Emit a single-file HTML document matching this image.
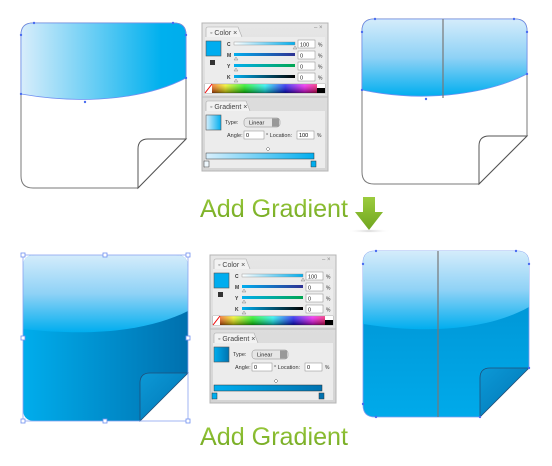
<!DOCTYPE html>
<html><head><meta charset="utf-8"><style>
html,body{margin:0;padding:0;background:#fff;width:552px;height:466px;overflow:hidden}
svg{display:block}
text{font-family:"Liberation Sans",sans-serif}
</style></head><body>
<svg width="552" height="466" viewBox="0 0 552 466" xmlns="http://www.w3.org/2000/svg">
<defs>
<linearGradient id="hg" x1="0" x2="1" y1="0" y2="0"><stop offset="0" stop-color="#d8edfb"/><stop offset="0.85" stop-color="#00b0ee"/><stop offset="1" stop-color="#00adec"/></linearGradient>
<linearGradient id="vg" x1="0" x2="0" y1="0" y2="1"><stop offset="0" stop-color="#d4ecfb"/><stop offset="0.5" stop-color="#8fd2f6"/><stop offset="1" stop-color="#00aeef"/></linearGradient>
<linearGradient id="dh" x1="0" x2="1" y1="0" y2="0"><stop offset="0" stop-color="#00adec"/><stop offset="1" stop-color="#0070ae"/></linearGradient>
<linearGradient id="dv" x1="0" x2="0" y1="0" y2="1"><stop offset="0" stop-color="#008fcf"/><stop offset="1" stop-color="#00aaea"/></linearGradient>
<linearGradient id="fold" x1="0" x2="1" y1="0" y2="1"><stop offset="0" stop-color="#0c99d6"/><stop offset="1" stop-color="#0074b4"/></linearGradient>
<linearGradient id="agr" x1="0" x2="0" y1="0" y2="1"><stop offset="0" stop-color="#9ccc3e"/><stop offset="1" stop-color="#6fa51f"/></linearGradient>
<linearGradient id="spec" x1="0" x2="1"><stop offset="0" stop-color="#ff0000"/><stop offset="0.17" stop-color="#ffff00"/><stop offset="0.33" stop-color="#00ff00"/><stop offset="0.5" stop-color="#00ffff"/><stop offset="0.67" stop-color="#0000ff"/><stop offset="0.83" stop-color="#ff00ff"/><stop offset="1" stop-color="#ff0000"/></linearGradient>
<linearGradient id="specd" x1="0" x2="0" y1="0" y2="1"><stop offset="0" stop-color="#fff" stop-opacity="0.3"/><stop offset="1" stop-color="#000" stop-opacity="0.5"/></linearGradient>
<linearGradient id="c1" x1="0" x2="1"><stop offset="0" stop-color="#fff"/><stop offset="1" stop-color="#00aeef"/></linearGradient>
<linearGradient id="m1" x1="0" x2="1"><stop offset="0" stop-color="#00aeef"/><stop offset="1" stop-color="#2e3192"/></linearGradient>
<linearGradient id="y1" x1="0" x2="1"><stop offset="0" stop-color="#00aeef"/><stop offset="1" stop-color="#00a651"/></linearGradient>
<linearGradient id="k1" x1="0" x2="1"><stop offset="0" stop-color="#00aeef"/><stop offset="1" stop-color="#000"/></linearGradient>
<linearGradient id="gb1" x1="0" x2="1"><stop offset="0" stop-color="#d8effc"/><stop offset="1" stop-color="#00aeef"/></linearGradient>
<linearGradient id="gb2" x1="0" x2="1"><stop offset="0" stop-color="#00aeef"/><stop offset="1" stop-color="#0072b0"/></linearGradient>
<linearGradient id="pan" x1="0" x2="0" y1="0" y2="1"><stop offset="0" stop-color="#e6e6e6"/><stop offset="1" stop-color="#d4d4d4"/></linearGradient>
<radialGradient id="ash" cx="0.5" cy="0.5" r="0.5"><stop offset="0" stop-color="#ccc"/><stop offset="1" stop-color="#fff" stop-opacity="0"/></radialGradient>
</defs>

<!-- TOP LEFT -->
<path d="M33,23 H174 Q186,23 186,35 V139 L138,188 H33 Q21,188 21,176 V35 Q21,23 33,23 Z" fill="#fff" stroke="#7a7a7a" stroke-width="1"/>
<path d="M21,94 V35 Q21,23 33,23 H174 Q186,23 186,35 V78 C150,97 90,106 21,94 Z" fill="url(#hg)" stroke="#6f8ff0" stroke-width="0.8"/>
<path d="M186,139 H148 Q138,139 138,149 V188 Z" fill="#fff" stroke="#555" stroke-width="1"/>
<g fill="#4a6cf0"><circle cx="34" cy="23" r="1.2"/><circle cx="173" cy="23" r="1.2"/><circle cx="21" cy="35" r="1.2"/><circle cx="186" cy="35" r="1.2"/><circle cx="21" cy="94" r="1.2"/><circle cx="186" cy="78" r="1.2"/><circle cx="85" cy="102" r="1.2"/></g>

<!-- TOP RIGHT -->
<path d="M374,19 H515 Q527,19 527,31 V136 L479,184 H374 Q362,184 362,172 V31 Q362,19 374,19 Z" fill="#fff" stroke="#7a7a7a" stroke-width="1"/>
<path d="M362,90 V31 Q362,19 374,19 H515 Q527,19 527,31 V74 C492,92 430,104 362,90 Z" fill="url(#vg)" stroke="#6f8ff0" stroke-width="0.8"/>
<line x1="443" y1="19" x2="443" y2="98" stroke="#777" stroke-width="1.2"/>
<path d="M527,136 H489 Q479,136 479,146 V184 Z" fill="#fff" stroke="#555" stroke-width="1"/>
<g fill="#4a6cf0"><circle cx="375" cy="19" r="1.2"/><circle cx="514" cy="19" r="1.2"/><circle cx="362" cy="32" r="1.2"/><circle cx="527" cy="32" r="1.2"/><circle cx="362" cy="90" r="1.2"/><circle cx="527" cy="74" r="1.2"/><circle cx="426" cy="99" r="1.2"/></g>

<!-- BOTTOM LEFT -->
<path d="M35,255 H176 Q188,255 188,267 V373 L140,421 H35 Q23,421 23,409 V267 Q23,255 35,255 Z" fill="url(#dh)"/>
<path d="M23,329 V267 Q23,255 35,255 H176 Q188,255 188,267 V311 C150,330 95,337 23,329 Z" fill="url(#vg)"/>
<path d="M188,373 V421 H140 Z" fill="#fff"/>
<path d="M188,373 H150 Q140,373 140,383 V421 Z" fill="url(#fold)" stroke="#1f4f7a" stroke-width="0.8"/>
<rect x="23" y="255" width="165" height="166" fill="none" stroke="#8aa2f0" stroke-width="0.8"/>
<g fill="#fff" stroke="#6f8ff0" stroke-width="0.8">
<rect x="21" y="253" width="4" height="4"/><rect x="103" y="253" width="4" height="4"/><rect x="186" y="253" width="4" height="4"/>
<rect x="21" y="336" width="4" height="4"/><rect x="186" y="336" width="4" height="4"/>
<rect x="21" y="419" width="4" height="4"/><rect x="103" y="419" width="4" height="4"/><rect x="186" y="419" width="4" height="4"/></g>

<!-- BOTTOM RIGHT -->
<path d="M375,251 H517 Q529,251 529,263 V368 L480,417 H375 Q363,417 363,405 V263 Q363,251 375,251 Z" fill="url(#dv)" stroke="#7f9cf0" stroke-width="0.8"/>
<path d="M363,324 V263 Q363,251 375,251 H517 Q529,251 529,263 V307 C495,326 440,336 363,324 Z" fill="url(#vg)"/>
<path d="M529,368 V417 H480 Z" fill="#fff"/>
<path d="M529,368 H490 Q480,368 480,378 V417 Z" fill="url(#fold)" stroke="#1f4f7a" stroke-width="0.8"/>
<line x1="438" y1="251" x2="438" y2="417" stroke="#777" stroke-width="1.2"/>
<g fill="#4a6cf0"><circle cx="376" cy="251" r="1.2"/><circle cx="516" cy="251" r="1.2"/><circle cx="363" cy="264" r="1.2"/><circle cx="529" cy="264" r="1.2"/><circle cx="363" cy="404" r="1.2"/><circle cx="376" cy="417" r="1.2"/><circle cx="480" cy="417" r="1.2"/><circle cx="529" cy="368" r="1.2"/></g>

<!-- PANEL TEMPLATE (top) -->
<g id="p1" transform="translate(202,23)">
<rect x="0" y="0" width="126" height="148" fill="url(#pan)" stroke="#b5b5b5"/>
<text x="112" y="6" font-size="6" fill="#888">– ×</text>
<path d="M4,14 V6 Q4,4 6,4 H36 L40,14" fill="#f2f2f2" stroke="#aaa" stroke-width="0.6"/>
<text x="8" y="12" font-size="7" fill="#444">◦ Color ×</text>
<rect x="3" y="14" width="120" height="58" fill="#ececec"/>
<rect x="4" y="18" width="15" height="15" fill="#00adef" stroke="#555" stroke-width="0.6"/>
<rect x="8" y="37" width="5" height="5" fill="#333"/>
<g font-size="5" fill="#333" font-weight="bold"><text x="25" y="23">C</text><text x="25" y="34">M</text><text x="25" y="45">Y</text><text x="25" y="56">K</text></g>
<rect x="32" y="19" width="61" height="3" fill="url(#c1)" stroke="#888" stroke-width="0.4"/>
<rect x="32" y="30" width="61" height="3" fill="url(#m1)"/>
<rect x="32" y="41" width="61" height="3" fill="url(#y1)"/>
<rect x="32" y="52" width="61" height="3" fill="url(#k1)"/>
<g fill="#ddd" stroke="#777" stroke-width="0.4"><path d="M91,26 l2,-3 2,3z"/><path d="M32,37 l2,-3 2,3z"/><path d="M32,48 l2,-3 2,3z"/><path d="M32,59 l2,-3 2,3z"/></g>
<g fill="#fff" stroke="#888" stroke-width="0.5"><rect x="96" y="17" width="17" height="8"/><rect x="96" y="28" width="17" height="8"/><rect x="96" y="39" width="17" height="8"/><rect x="96" y="50" width="17" height="8"/></g>
<g font-size="5.5" fill="#222"><text x="98" y="23.5">100</text><text x="98" y="34.5">0</text><text x="98" y="45.5">0</text><text x="98" y="56.5">0</text></g>
<g font-size="5" fill="#333"><text x="116" y="23.5">%</text><text x="116" y="34.5">%</text><text x="116" y="45.5">%</text><text x="116" y="56.5">%</text></g>
<rect x="3" y="61" width="120" height="9" fill="url(#spec)" stroke="#666" stroke-width="0.4"/>
<rect x="3" y="61" width="120" height="9" fill="url(#specd)"/>
<rect x="3" y="61" width="7" height="9" fill="#fff"/><line x1="3" y1="70" x2="10" y2="61" stroke="#e00" stroke-width="1"/>
<rect x="115" y="61" width="8" height="4" fill="#fff"/><rect x="115" y="65" width="8" height="5" fill="#000"/>
<line x1="0" y1="74" x2="126" y2="74" stroke="#bbb"/>
<path d="M4,88 V80 Q4,78 6,78 H44 L48,88" fill="#f2f2f2" stroke="#aaa" stroke-width="0.6"/>
<text x="8" y="86" font-size="7" fill="#444">◦ Gradient ×</text>
<rect x="3" y="88" width="120" height="57" fill="#ececec"/>
<rect x="4" y="92" width="15" height="15" fill="url(#gb1)" stroke="#555" stroke-width="0.6"/>
<text x="23" y="101" font-size="5.5" fill="#333">Type:</text>
<rect x="42" y="95" width="36" height="9" rx="3" fill="#e6e6e6" stroke="#888" stroke-width="0.5"/>
<text x="47" y="101.5" font-size="5.5" fill="#222">Linear</text>
<rect x="70" y="95.5" width="7" height="8" fill="#999"/>
<text x="25" y="114" font-size="5.5" fill="#333">Angle:</text>
<rect x="42" y="108" width="20" height="8" fill="#fff" stroke="#888" stroke-width="0.5"/><text x="44" y="114" font-size="5.5">0</text>
<text x="64" y="114" font-size="5.5" fill="#333">° Location:</text>
<rect x="95" y="108" width="17" height="8" fill="#fff" stroke="#888" stroke-width="0.5"/><text class="loc" x="97" y="114" font-size="5.5">100</text>
<text x="115" y="114" font-size="5" fill="#333">%</text>
<path d="M64,126 l2,-2 2,2 -2,2z" fill="#fff" stroke="#555" stroke-width="0.5"/>
<rect x="4" y="130" width="108" height="6" fill="url(#gb1)" stroke="#333" stroke-width="0.5"/>
<rect x="2" y="138" width="5" height="6" fill="#eef7fd" stroke="#333" stroke-width="0.5"/>
<rect x="109" y="138" width="5" height="6" fill="#00aeef" stroke="#333" stroke-width="0.5"/>
</g>

<!-- PANEL bottom -->
<g transform="translate(210,255)">
<rect x="0" y="0" width="126" height="148" fill="url(#pan)" stroke="#b5b5b5"/>
<text x="112" y="6" font-size="6" fill="#888">– ×</text>
<path d="M4,14 V6 Q4,4 6,4 H36 L40,14" fill="#f2f2f2" stroke="#aaa" stroke-width="0.6"/>
<text x="8" y="12" font-size="7" fill="#444">◦ Color ×</text>
<rect x="3" y="14" width="120" height="58" fill="#ececec"/>
<rect x="4" y="18" width="15" height="15" fill="#00adef" stroke="#555" stroke-width="0.6"/>
<rect x="8" y="37" width="5" height="5" fill="#333"/>
<g font-size="5" fill="#333" font-weight="bold"><text x="25" y="23">C</text><text x="25" y="34">M</text><text x="25" y="45">Y</text><text x="25" y="56">K</text></g>
<rect x="32" y="19" width="61" height="3" fill="url(#c1)" stroke="#888" stroke-width="0.4"/>
<rect x="32" y="30" width="61" height="3" fill="url(#m1)"/>
<rect x="32" y="41" width="61" height="3" fill="url(#y1)"/>
<rect x="32" y="52" width="61" height="3" fill="url(#k1)"/>
<g fill="#ddd" stroke="#777" stroke-width="0.4"><path d="M91,26 l2,-3 2,3z"/><path d="M32,37 l2,-3 2,3z"/><path d="M32,48 l2,-3 2,3z"/><path d="M32,59 l2,-3 2,3z"/></g>
<g fill="#fff" stroke="#888" stroke-width="0.5"><rect x="96" y="17" width="17" height="8"/><rect x="96" y="28" width="17" height="8"/><rect x="96" y="39" width="17" height="8"/><rect x="96" y="50" width="17" height="8"/></g>
<g font-size="5.5" fill="#222"><text x="98" y="23.5">100</text><text x="98" y="34.5">0</text><text x="98" y="45.5">0</text><text x="98" y="56.5">0</text></g>
<g font-size="5" fill="#333"><text x="116" y="23.5">%</text><text x="116" y="34.5">%</text><text x="116" y="45.5">%</text><text x="116" y="56.5">%</text></g>
<rect x="3" y="61" width="120" height="9" fill="url(#spec)" stroke="#666" stroke-width="0.4"/>
<rect x="3" y="61" width="120" height="9" fill="url(#specd)"/>
<rect x="3" y="61" width="7" height="9" fill="#fff"/><line x1="3" y1="70" x2="10" y2="61" stroke="#e00" stroke-width="1"/>
<rect x="115" y="61" width="8" height="4" fill="#fff"/><rect x="115" y="65" width="8" height="5" fill="#000"/>
<line x1="0" y1="74" x2="126" y2="74" stroke="#bbb"/>
<path d="M4,88 V80 Q4,78 6,78 H44 L48,88" fill="#f2f2f2" stroke="#aaa" stroke-width="0.6"/>
<text x="8" y="86" font-size="7" fill="#444">◦ Gradient ×</text>
<rect x="3" y="88" width="120" height="57" fill="#ececec"/>
<rect x="4" y="92" width="15" height="15" fill="url(#gb2)" stroke="#555" stroke-width="0.6"/>
<text x="23" y="101" font-size="5.5" fill="#333">Type:</text>
<rect x="42" y="95" width="36" height="9" rx="3" fill="#e6e6e6" stroke="#888" stroke-width="0.5"/>
<text x="47" y="101.5" font-size="5.5" fill="#222">Linear</text>
<rect x="70" y="95.5" width="7" height="8" fill="#999"/>
<text x="25" y="114" font-size="5.5" fill="#333">Angle:</text>
<rect x="42" y="108" width="20" height="8" fill="#fff" stroke="#888" stroke-width="0.5"/><text x="44" y="114" font-size="5.5">0</text>
<text x="64" y="114" font-size="5.5" fill="#333">° Location:</text>
<rect x="95" y="108" width="17" height="8" fill="#fff" stroke="#888" stroke-width="0.5"/><text x="97" y="114" font-size="5.5">0</text>
<text x="115" y="114" font-size="5" fill="#333">%</text>
<path d="M64,126 l2,-2 2,2 -2,2z" fill="#fff" stroke="#555" stroke-width="0.5"/>
<rect x="4" y="130" width="108" height="6" fill="url(#gb2)" stroke="#333" stroke-width="0.5"/>
<rect x="2" y="138" width="5" height="6" fill="#00aeef" stroke="#333" stroke-width="0.5"/>
<rect x="109" y="138" width="5" height="6" fill="#0072b0" stroke="#333" stroke-width="0.5"/>
</g>

<!-- Labels -->
<text x="200" y="217" font-family="Liberation Serif, serif" font-size="25" fill="url(#agr)" textLength="148" lengthAdjust="spacingAndGlyphs">Add Gradient</text>
<text x="200" y="445" font-family="Liberation Serif, serif" font-size="25" fill="url(#agr)" textLength="148" lengthAdjust="spacingAndGlyphs">Add Gradient</text>
<ellipse cx="369" cy="231" rx="22" ry="2" fill="url(#ash)"/>
<path d="M363,197 H375 V212 H383 L369,230 L355,212 H363 Z" fill="url(#agr)"/>
</svg>
</body></html>
